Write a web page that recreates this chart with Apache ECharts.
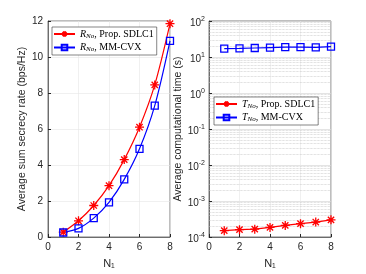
<!DOCTYPE html>
<html><head><meta charset="utf-8">
<script src="https://cdn.jsdelivr.net/npm/echarts@6/dist/echarts.min.js"></script>
<style>html,body{margin:0;padding:0;background:#fff}#c{width:366px;height:274px}</style>
</head><body><div id="c"></div>
<script>
const xVals = [1,2,3,4,5,6,7,8];
const rateProp = [0.27,0.9,1.75,2.85,4.3,6.1,8.45,11.85];
const rateMM = [0.25,0.48,1.05,1.92,3.2,4.9,7.3,10.9];
const timeProp = [1.5e-4,1.6e-4,1.65e-4,1.85e-4,2.1e-4,2.35e-4,2.6e-4,3.0e-4];
const timeMM = [17,17.3,17.8,18.3,18.8,18.9,18.6,19.5];
const xTicks = [0,2,4,6,8];
const yRateTicks = [0,2,4,6,8,10,12];
const logDecades = [-4,-3,-2,-1,0,1];
const minorMult = [2,3,4,5,6,7,8,9];

const star = 'path://M0,-10L0,10M-10,0L10,0M-7,-7L7,7M-7,7L7,-7';
const font = 'Liberation Sans';
const axisCol = '#262626';
function pairs(ys){return xVals.map((x,i)=>[x,ys[i]]);}
const minorLines = [];
logDecades.forEach(e=>minorMult.forEach(m=>minorLines.push({yAxis:m*Math.pow(10,e)})));
const rich = {
  i:{fontFamily:'Liberation Serif',fontStyle:'italic',fontSize:10,color:'#000'},
  s:{fontFamily:'Liberation Serif',fontStyle:'italic',fontSize:7,color:'#000',padding:[4,0,0,0]},
  t:{fontFamily:'Liberation Serif',fontSize:10,color:'#000'}
};
const names = {
  rp:'{i|R}{s|No}{t|, Prop. SDLC1}', rm:'{i|R}{s|No}{t|, MM-CVX}',
  tp:'{i|T}{s|No}{t|, Prop. SDLC1}', tm:'{i|T}{s|No}{t|, MM-CVX}'
};
const xAxisBase = (gi)=>({
  type:'value', gridIndex:gi, min:0, max:8, interval:2,
  name:'N\u2081', nameLocation:'middle', nameGap:21,
  nameTextStyle:{fontFamily:font,fontSize:11,color:axisCol},
  axisLine:{onZero:false,lineStyle:{color:axisCol,width:0.6}},
  axisTick:{inside:true,length:3,lineStyle:{color:axisCol}},
  axisLabel:{fontFamily:font,fontSize:10,color:axisCol,margin:5},
  splitLine:{show:true,lineStyle:{color:'#e6e6e6',width:0.6}}
});
const legendBase = {orient:'vertical',itemGap:3,itemWidth:21,itemHeight:7,
  backgroundColor:'#fff',borderColor:'#333',borderWidth:0.6,padding:[2,3,2,1],
  formatter:n=>names[n],textStyle:{rich:rich}};
const chart = echarts.init(document.getElementById('c'));
chart.setOption({
  backgroundColor:'#fff',
  animation:false,
  grid:[
    {left:48,top:21,width:122,height:223,show:true,borderColor:axisCol,borderWidth:0.6},
    {left:209,top:21,width:122,height:223,show:true,borderColor:axisCol,borderWidth:0.6}
  ],
  legend:[
    Object.assign({data:['rp','rm'],left:52,top:27},legendBase),
    Object.assign({data:['tp','tm'],left:214,top:97},legendBase)
  ],
  xAxis:[xAxisBase(0),xAxisBase(1)],
  yAxis:[
    {type:'value',gridIndex:0,min:0,max:12,interval:2,
     name:'Average sum secrecy rate (bps/Hz)',nameLocation:'middle',nameGap:14,
     nameTextStyle:{fontFamily:font,fontSize:10.5,color:axisCol},
     axisLine:{lineStyle:{color:axisCol,width:0.6}},
     axisTick:{inside:true,length:3,lineStyle:{color:axisCol}},
     axisLabel:{fontFamily:font,fontSize:10,color:axisCol,margin:5},
     splitLine:{show:true,lineStyle:{color:'#e6e6e6',width:0.6}}},
    {type:'log',gridIndex:1,min:1e-4,max:100,logBase:10,
     name:'Average computational time (s)',nameLocation:'middle',nameGap:14,
     nameTextStyle:{fontFamily:font,fontSize:10.5,color:axisCol},
     axisLine:{lineStyle:{color:axisCol,width:0.6}},
     axisTick:{inside:true,length:3,lineStyle:{color:axisCol}},
     axisLabel:{fontFamily:font,fontSize:10,color:axisCol,margin:4,
       formatter:v=>{const e=Math.round(Math.log10(v));return '{b|10}{e|'+e+'}';},
       rich:{b:{fontFamily:font,fontSize:10,color:axisCol,padding:[4,0,0,0]},e:{fontFamily:font,fontSize:7,color:axisCol,padding:[0,0,4,0]}}},
     splitLine:{show:true,lineStyle:{color:'#d8d8d8',width:0.7}}}
  ],
  series:[
    {name:'rp',type:'line',xAxisIndex:0,yAxisIndex:0,data:pairs(rateProp),smooth:0.3,z:3,
     symbol:star,symbolSize:9,color:'#ff0000',lineStyle:{width:1.2,color:'#ff0000'},
     itemStyle:{color:'#ff0000',borderColor:'#ff0000',borderWidth:1.3}},
    {name:'rm',type:'line',xAxisIndex:0,yAxisIndex:0,data:pairs(rateMM),smooth:0.3,z:3,
     symbol:'rect',symbolSize:7,color:'#0000ff',lineStyle:{width:1.2,color:'#0000ff'},
     itemStyle:{color:'rgba(0,0,0,0)',borderColor:'#0000ff',borderWidth:1.3}},
    {name:'tp',type:'line',xAxisIndex:1,yAxisIndex:1,data:pairs(timeProp),z:3,
     symbol:star,symbolSize:9,color:'#ff0000',lineStyle:{width:1.2,color:'#ff0000'},
     itemStyle:{color:'#ff0000',borderColor:'#ff0000',borderWidth:1.3},
     markLine:{silent:true,symbol:['none','none'],precision:8,label:{show:false},animation:false,z:1,
       lineStyle:{color:'#c4c4c4',width:0.7,type:'dotted'},
       emphasis:{disabled:true},data:minorLines}},
    {name:'tm',type:'line',xAxisIndex:1,yAxisIndex:1,data:pairs(timeMM),z:3,
     symbol:'rect',symbolSize:7,color:'#0000ff',lineStyle:{width:1.2,color:'#0000ff'},
     itemStyle:{color:'rgba(0,0,0,0)',borderColor:'#0000ff',borderWidth:1.3}}
  ]
});
</script></body></html>
